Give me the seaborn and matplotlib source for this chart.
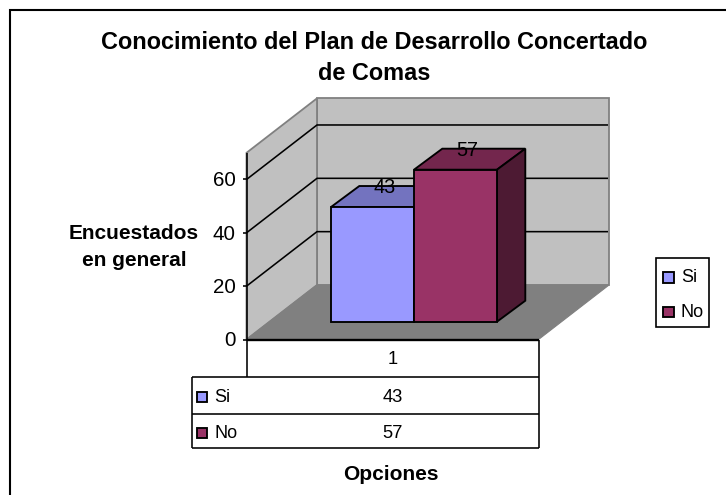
import matplotlib
matplotlib.use('Agg')
import matplotlib.pyplot as plt
import pandas as pd
import seaborn as sns
from matplotlib.patches import Polygon, Rectangle
from matplotlib.transforms import Affine2D

series = ['Si', 'No']
valores = [43, 57]
categoria = ['1']
eje_y = [0, 20, 40, 60]
eje_max = 70
titulo = 'Conocimiento del Plan de Desarrollo Concertado\nde Comas'
titulo_y = 'Encuestados\nen general'
titulo_x = 'Opciones'
colores = ['#9999FF', '#993366']
colores_top = ['#7373BF', '#73264D']
colores_lado = ['#4D4D80', '#4D1A33']

sns.set_theme(style='white')
plt.rcParams['font.family'] = ['Liberation Sans', 'DejaVu Sans']

df = pd.DataFrame({'cat': categoria * len(series), 'serie': series, 'valor': valores})

W, H = 726, 495
fig = plt.figure(figsize=(W / 100, H / 100), dpi=100)
ax = fig.add_axes([0, 0, 1, 1])

# coordenadas em pixels da imagem (origem em cima)
pix = Affine2D().scale(1, -1).translate(0, H)

# geometria do "3D" do excel
x0, y0 = 246.5, 339.5
dx, dy = 70.5, 54.5
esc = 2.667
x1 = 538.5
lw_barra = 1.35


def py(v):
    return y0 - v * esc


def poly(pts, fc, ec='none', lw=0, z=0.2):
    ax.add_patch(Polygon(pts, closed=True, facecolor=fc, edgecolor=ec, linewidth=lw,
                         transform=pix, zorder=z))


def linha(xs, ys, c='black', lw=1.15, z=0.5):
    ax.plot(xs, ys, color=c, lw=lw, transform=pix, zorder=z, solid_capstyle='butt')


def texto(x, y, s, size=13.2, **kw):
    kw.setdefault('ha', 'center')
    kw.setdefault('va', 'center')
    ax.text(x, y + 1.3, s, fontsize=size, transform=pix, zorder=8, color='black', **kw)


# moldura
ax.add_patch(Rectangle((9.5, 10), 760, 520, fc='white', ec='black', lw=1.5, transform=pix, zorder=0.1))

# paredes e chao
cinza = '#C0C0C0'
borda = '#808080'
topo = py(eje_max)
poly([(x0 + dx, topo - dy), (x1 + dx, topo - dy), (x1 + dx, y0 - dy), (x0 + dx, y0 - dy)], cinza, borda, 1.3)
poly([(x0, topo), (x0 + dx, topo - dy), (x0 + dx, y0 - dy), (x0, y0)], cinza, borda, 1.3)
poly([(x0, y0), (x0 + dx, y0 - dy), (x1 + dx, y0 - dy), (x1, y0)], borda, borda, 0.8)

for v in eje_y[1:]:
    linha([x0, x0 + dx, x1 + dx - 1], [py(v), py(v) - dy, py(v) - dy])
linha([x0, x0], [topo, y0 + 37], z=0.6)
for v in eje_y:
    linha([x0 - 4, x0], [py(v), py(v)])
    texto(235.5, py(v), str(v), size=14.8, ha='right')

# barras com seaborn: 0 da escala e a frente das colunas
base_px = 321.7
esc_x = 207.5
meio_px = 414
sns.barplot(data=df, x='cat', y='valor', hue='serie', hue_order=series, palette=colores,
            saturation=1, width=0.8, edgecolor='black', linewidth=lw_barra, legend=False, ax=ax, zorder=3)
ax.set_xlim(-meio_px / esc_x, (W - meio_px) / esc_x)
ax.set_ylim((base_px - H) / esc, base_px / esc)
ax.axis('off')

# faces de cima e do lado a partir das barras desenhadas
prof_x = 28.3 / esc_x
prof_y = 21 / esc
barras = sorted([c.patches[0] for c in ax.containers], key=lambda p: p.get_x())
for i, b in enumerate(barras):
    xa, xb, h = b.get_x(), b.get_x() + b.get_width(), b.get_height()
    ax.add_patch(Polygon([(xa, h), (xa + prof_x, h + prof_y), (xb + prof_x, h + prof_y), (xb, h)],
                         fc=colores_top[i], ec='black', lw=lw_barra, zorder=2))
    ax.add_patch(Polygon([(xb, 0), (xb + prof_x, prof_y), (xb + prof_x, h + prof_y), (xb, h)],
                         fc=colores_lado[i], ec='black', lw=lw_barra, zorder=2))
    ax.text((xa + xb) / 2 + prof_x * 0.42, h + prof_y - 1.5 / esc, str(valores[i]),
            ha='center', va='center', fontsize=14.3, color='black', zorder=8)

# tabela de dados
lin_t = [y0, 376.7, 414, 447.7]
cent_t = [358, 397, 432.5]
xt = 191.7
linha([x0, x1], [y0, y0], lw=1.7, z=5)
linha([x1, x1], [y0, lin_t[3]])
linha([xt, x1], [lin_t[1], lin_t[1]])
linha([xt, x1], [lin_t[2], lin_t[2]])
linha([xt, x1], [lin_t[3], lin_t[3]])
linha([xt, xt], [lin_t[1], lin_t[3]])
texto((x0 + x1) / 2, cent_t[0], categoria[0])
for i, s in enumerate(series):
    yc = cent_t[i + 1]
    ax.add_patch(Rectangle((197, yc - 5), 10, 10, fc=colores[i], ec='black', lw=lw_barra, transform=pix, zorder=6))
    texto(214, yc - 0.5, s, size=13, ha='left')
    texto((x0 + x1) / 2, yc - 0.5, str(valores[i]))

# leyenda
ax.add_patch(Rectangle((656, 258), 53, 69, fc='white', ec='black', lw=1.2, transform=pix, zorder=4))
for i, s in enumerate(series):
    yc = 277 + i * 34.5
    ax.add_patch(Rectangle((663, yc - 5), 10.5, 10.5, fc=colores[i], ec='black', lw=lw_barra, transform=pix, zorder=6))
    texto(681, yc - 0.5, s, size=13, ha='left')

# titulos
texto(374.5, 56.7, titulo, size=16.9, fontweight='bold', linespacing=1.42)
texto(134, 246, titulo_y, size=15, fontweight='bold', linespacing=1.55)
texto(391, 473, titulo_x, size=15, fontweight='bold')

fig.savefig('out.png', dpi=100)
